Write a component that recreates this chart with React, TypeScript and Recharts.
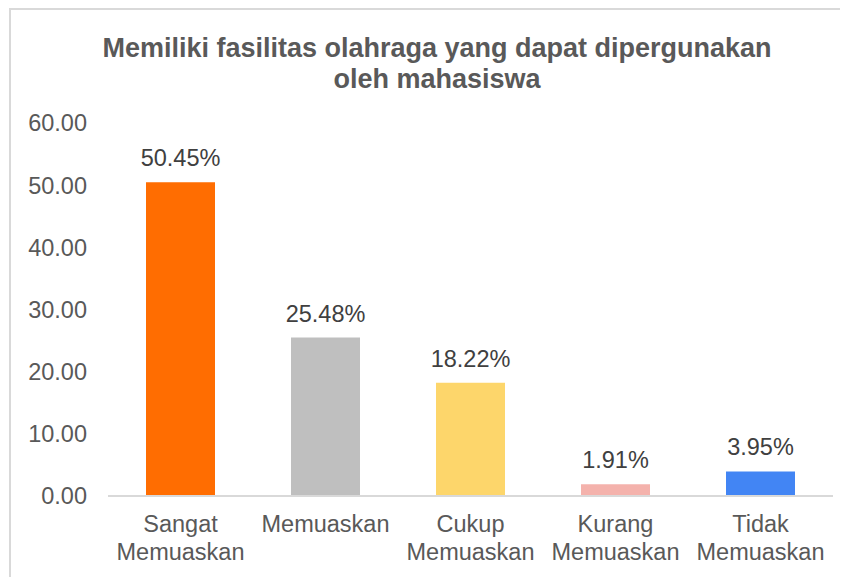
import { Bar, BarChart, Cell, LabelList, XAxis, YAxis } from 'recharts'

const categories = [
  'Sangat Memuaskan',
  'Memuaskan',
  'Cukup Memuaskan',
  'Kurang Memuaskan',
  'Tidak Memuaskan',
]
const percentages = [50.45, 25.48, 18.22, 1.91, 3.95]
const barColors = ['#ff6d01', '#bfbfbf', '#fdd66b', '#f4b2ac', '#4285f4']
const yTicks = [0, 10, 20, 30, 40, 50, 60]
const titleLines = [
  'Memiliki fasilitas olahraga yang dapat dipergunakan',
  'oleh mahasiswa',
]

const data = categories.map((name, i) => ({ name, value: percentages[i] }))

const FONT = '"Liberation Sans", Arial, sans-serif'
const INK = '#595959'

function CategoryTick(props: any) {
  const { x, y, payload } = props
  const words = String(payload.value).split(' ')
  return (
    <text x={x} y={y} textAnchor="middle" fill={INK} fontSize={23.5} fontFamily={FONT}>
      {words.map((w, i) => (
        <tspan key={i} x={x} y={y + 28 + i * 28}>
          {w}
        </tspan>
      ))}
    </text>
  )
}

export default function App() {
  return (
    <div
      style={{
        position: 'relative',
        width: 840,
        height: 569,
        borderTop: '2px solid #d9d9d9',
        borderLeft: '2px solid #d9d9d9',
        boxSizing: 'border-box',
        marginLeft: 1,
      }}
    >
      <svg
        width={838}
        height={110}
        style={{ position: 'absolute', left: 0, top: 0 }}
      >
        {titleLines.map((line, i) => (
          <text
            key={i}
            x={426}
            y={47 + i * 31}
            textAnchor="middle"
            fill={INK}
            fontSize={27}
            fontWeight="bold"
            fontFamily={FONT}
          >
            {line}
          </text>
        ))}
      </svg>
      <BarChart
        width={837}
        height={567}
        data={data}
        margin={{ top: 113, right: 15, left: 0, bottom: 11 }}
      >
        <XAxis
          dataKey="name"
          interval={0}
          tickLine={false}
          axisLine={{ stroke: '#d9d9d9', strokeWidth: 2 }}
          height={70}
          tick={<CategoryTick />}
        />
        <YAxis
          domain={[0, 60]}
          ticks={yTicks}
          width={97}
          axisLine={false}
          tickLine={false}
          tickSize={0}
          tickMargin={21}
          tickFormatter={(v: number) => v.toFixed(2)}
          tick={{ fill: INK, fontSize: 23.5, fontFamily: FONT }}
        />
        <Bar dataKey="value" barSize={69} isAnimationActive={false}>
          {data.map((d, i) => (
            <Cell key={d.name} fill={barColors[i]} />
          ))}
          <LabelList
            dataKey="value"
            position="top"
            offset={16}
            formatter={(v: any) => `${Number(v).toFixed(2)}%`}
            style={{ fill: '#404040', fontSize: 23.5, fontFamily: FONT }}
          />
        </Bar>
      </BarChart>
    </div>
  )
}
